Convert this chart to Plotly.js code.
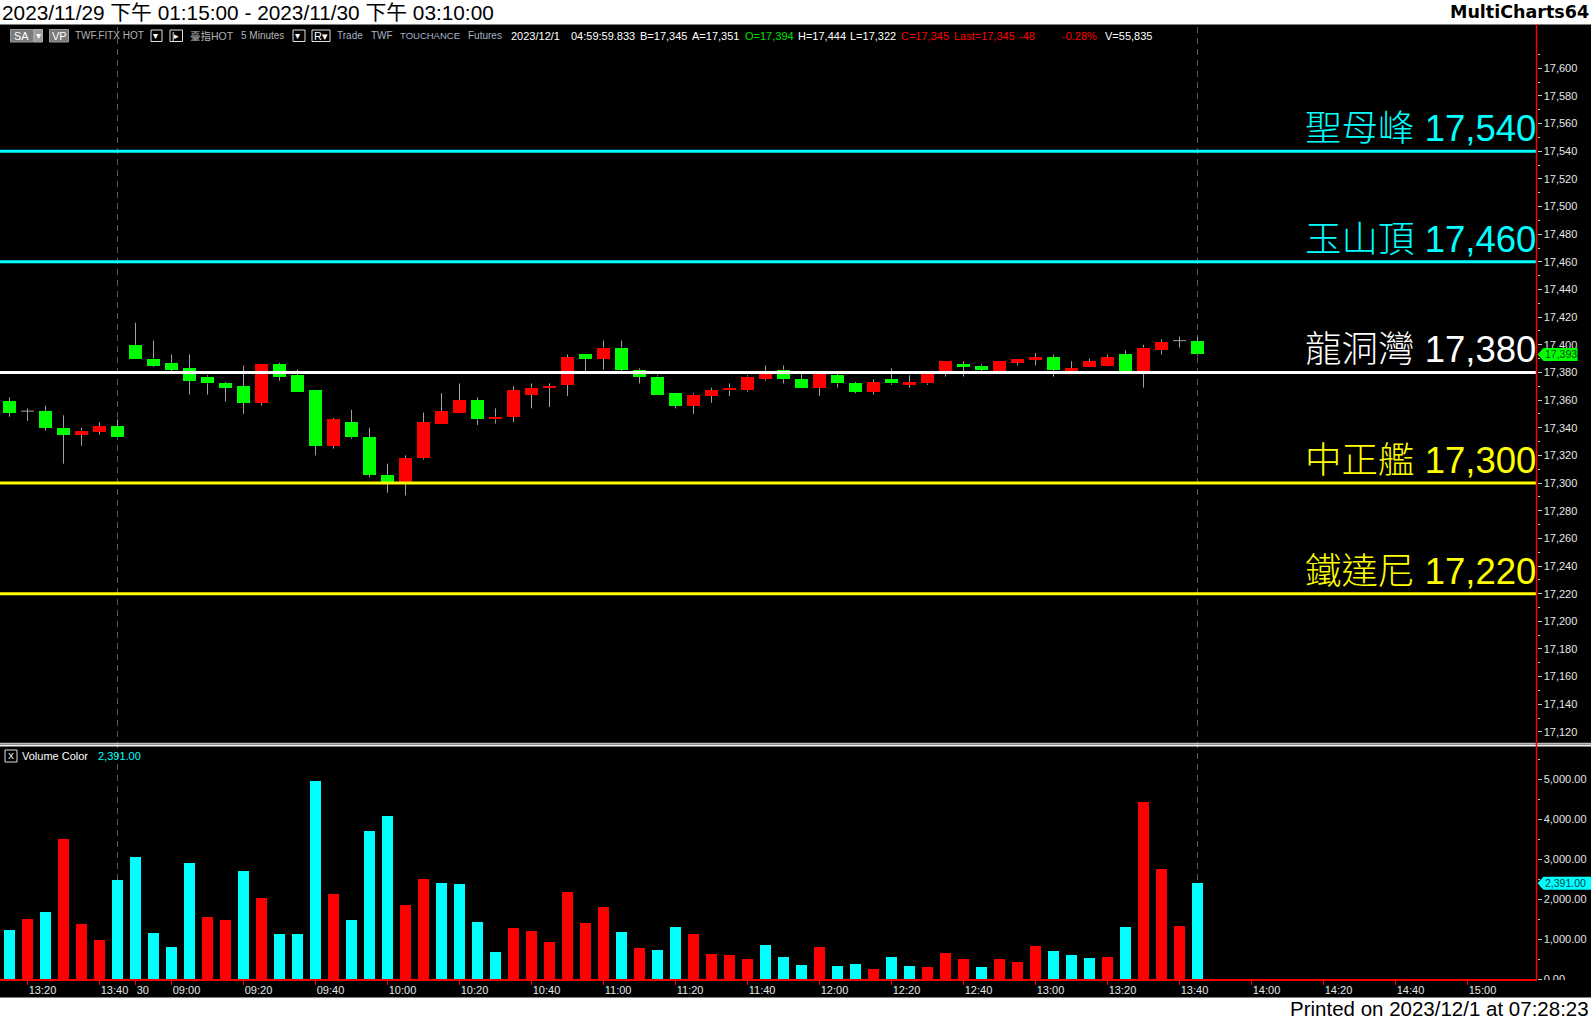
<!DOCTYPE html>
<html>
<head>
<meta charset="utf-8">
<script src="https://cdn.plot.ly/plotly-3.0.1.min.js"></script>
<style>
html,body{margin:0;padding:0;background:#000;overflow:hidden}
#chart{width:1591px;height:1020px}
</style>
</head>
<body>
<div id="chart"></div>
<script>
// ================= DATA =================
// 5-minute bar close times
const day1Times = ['13:15','13:20','13:25','13:30','13:35','13:40','13:45'];
const day2Times = ['08:50','08:55','09:00','09:05','09:10','09:15','09:20','09:25','09:30','09:35',
  '09:40','09:45','09:50','09:55','10:00','10:05','10:10','10:15','10:20','10:25',
  '10:30','10:35','10:40','10:45','10:50','10:55','11:00','11:05','11:10','11:15',
  '11:20','11:25','11:30','11:35','11:40','11:45','11:50','11:55','12:00','12:05',
  '12:10','12:15','12:20','12:25','12:30','12:35','12:40','12:45','12:50','12:55',
  '13:00','13:05','13:10','13:15','13:20','13:25','13:30','13:35','13:40','13:45'];
const futureTimes = ['13:50','13:55','14:00','14:05','14:10','14:15','14:20','14:25','14:30',
  '14:35','14:40','14:45','14:50','14:55','15:00','15:05','15:10'];
const day2Label = '30';

const openP = [17359,17352,17352,17340,17335,17337,17341,
  17400,17390,17387,17383,17377,17372,17370,17358,17386,17378,17367,17327,17344,17333,
  17306,17301,17318,17343,17351,17360,17346,17348,17364,17369,17371,17393,17390,17398,
  17382,17377,17365,17356,17363,17367,17367,17375,17382,17375,17369,17378,17372,17366,
  17375,17371,17372,17380,17386,17385,17381,17387,17389,17391,17380,17384,17385,17393,
  17380,17396,17403,17403];
const highP = [17362,17354,17356,17349,17340,17344,17346,
  17416,17403,17393,17393,17378,17373,17385,17386,17387,17382,17367,17347,17353,17340,
  17314,17320,17351,17365,17372,17362,17354,17370,17372,17372,17393,17393,17403,17403,
  17383,17378,17365,17365,17369,17372,17378,17385,17385,17379,17380,17379,17373,17375,
  17383,17378,17380,17388,17388,17386,17388,17390,17394,17393,17388,17390,17393,17396,
  17400,17404,17406,17406];
const lowP = [17348,17345,17338,17314,17327,17335,17333,
  17390,17384,17381,17364,17364,17359,17350,17356,17374,17366,17320,17325,17332,17304,
  17293,17291,17317,17343,17351,17342,17343,17344,17354,17355,17363,17381,17382,17381,
  17372,17364,17354,17350,17358,17363,17366,17374,17372,17369,17363,17369,17365,17364,
  17371,17369,17371,17377,17377,17381,17380,17385,17385,17377,17380,17384,17385,17380,
  17369,17393,17398,17392];
const closeP = [17351,17352,17340,17335,17338,17341,17333,
  17390,17385,17382,17374,17372,17369,17358,17386,17377,17366,17327,17346,17333,17306,
  17301,17318,17344,17352,17360,17346,17348,17367,17369,17370,17391,17390,17398,17382,
  17377,17364,17356,17364,17367,17369,17377,17380,17375,17369,17379,17372,17366,17373,
  17372,17373,17379,17388,17384,17382,17388,17390,17391,17382,17383,17388,17391,17381,
  17398,17402,17403,17393];

const volume = [1225,1508,1675,3500,1375,975,2475,
  3050,1150,800,2900,1550,1475,2700,2025,1125,1125,4950,2125,1475,3700,
  4075,1850,2500,2400,2375,1425,675,1275,1200,925,2175,1400,1800,1175,
  775,725,1300,1125,625,600,500,850,550,350,800,325,375,250,
  550,325,300,650,500,300,500,425,825,700,600,525,550,1300,
  4425,2750,1325,2391];
// volume colour class: 'u' = red, 'd' = cyan
const volumeDir = ['d','u','d','u','u','u','d',
  'd','d','d','d','u','u','d','u','d','d','d','u','d','d',
  'd','u','u','d','d','d','d','u','u','u','u','u','u','d',
  'u','d','d','u','u','u','u','d','d','d','u','d','d','u',
  'd','d','u','u','u','d','u','u','u','d','d','d','u','d',
  'u','u','u','d'];

const levelNames = ['聖母峰','玉山頂','龍洞灣','中正艦','鐵達尼'];
const levelValues = [17540,17460,17380,17300,17220];

// ================= STYLE =================
const W = 1591, H = 1020;
const px = v => v / W;
const py = v => 1 - v / H;
const LAT = 'Liberation Sans, Arial, Noto Sans CJK TC, sans-serif';
const CJK = 'Liberation Sans, Noto Sans CJK TC, sans-serif';
const levelColors = ['#00ffff','#00ffff','#ffffff','#ffff00','#ffff00'];
const UP = '#ff0000', DOWN = '#00ff00', VUP = '#ff0000', VDOWN = '#00ffff', WICK = '#a0a0a0';
const AXIS_X = 1536.5;
const PITCH = 18;
const bodyW = 0.72, volW = 0.6, dojiHalf = 0.36;

// ================= BUILD =================
const slots = day1Times.concat(day2Times, futureTimes);
const tickVals = [], tickText = [];
slots.forEach((t, i) => {
  if (i === day1Times.length) { tickVals.push(i); tickText.push(day2Label); }
  else if (parseInt(t.split(':')[1], 10) % 20 === 0) { tickVals.push(i); tickText.push(t); }
});
const n = closeP.length;
const idx = closeP.map((_, i) => i);
const fmt = v => v.toLocaleString('en-US');
const fmt2 = v => v.toLocaleString('en-US', {minimumFractionDigits:2, maximumFractionDigits:2});

// wicks (drawn outside the body), doji bars as a horizontal dash
const wx = [], wy = [];
for (let i = 0; i < n; i++) {
  const top = Math.max(openP[i], closeP[i]), bot = Math.min(openP[i], closeP[i]);
  wx.push(i, i, null); wy.push(highP[i], top, null);
  wx.push(i, i, null); wy.push(bot, lowP[i], null);
  if (openP[i] === closeP[i]) { wx.push(i - dojiHalf, i + dojiHalf, null); wy.push(openP[i], openP[i], null); }
}

const traces = [
  { type:'bar', x: idx, y: volume, xaxis:'x', yaxis:'y', width: volW,
    marker:{ color: volumeDir.map(d => d === 'u' ? VUP : VDOWN), line:{width:0} }, hoverinfo:'skip' },
  { type:'scatter', mode:'lines', x: wx, y: wy, xaxis:'x', yaxis:'y2',
    line:{ color: WICK, width: 1 }, hoverinfo:'skip', connectgaps:false },
  { type:'bar', x: idx, base: openP, y: closeP.map((c, i) => c - openP[i]), xaxis:'x', yaxis:'y2', width: bodyW,
    marker:{ color: closeP.map((c, i) => c >= openP[i] ? UP : DOWN), line:{width:0} }, hoverinfo:'skip' }
];

const lastClose = closeP[n - 1], lastVol = volume[n - 1];
const sessionEnds = idx.filter(i => slots[i] === '13:45');

const shapes = [];
const rectPx = (x0, y0, x1, y1, fill, line, lw, layer) => shapes.push({
  type:'rect', xref:'paper', yref:'paper', x0:px(x0), x1:px(x1), y0:py(y1), y1:py(y0),
  fillcolor: fill, line:{ color: line || fill, width: lw || 0 }, layer: layer || 'above' });

// header / footer white bands
rectPx(0, 0, W, 24.5, '#ffffff', null, 0, 'below');
rectPx(0, 997.5, W, H, '#ffffff', null, 0, 'below');

// session end dashed lines
sessionEnds.forEach(i => shapes.push({ type:'line', xref:'x', yref:'paper', x0:i, x1:i, y0:py(979), y1:py(27),
  line:{ color:'#585858', width:1, dash:'6px,5px' }, layer:'below' }));

// price levels
levelValues.forEach((v, i) => shapes.push({ type:'line', xref:'paper', yref:'y2', x0:0, x1:px(AXIS_X), y0:v, y1:v,
  line:{ color: levelColors[i], width:3 }, layer:'above' }));

// pane separator
shapes.push({ type:'line', xref:'paper', yref:'paper', x0:0, x1:1, y0:py(743.5), y1:py(743.5), line:{color:'#bdbdbd', width:1.5}, layer:'above' });
shapes.push({ type:'line', xref:'paper', yref:'paper', x0:0, x1:1, y0:py(745.5), y1:py(745.5), line:{color:'#f0f0f0', width:2}, layer:'above' });

// red price/volume scale line
shapes.push({ type:'line', xref:'paper', yref:'paper', x0:px(AXIS_X), x1:px(AXIS_X), y0:py(979), y1:py(24.5), line:{color:'#ff0000', width:1.5}, layer:'above' });
// hide lower half of "0.00"
rectPx(AXIS_X + 1, 980, W, 997, '#000000', null, 0, 'above');

// last value markers
shapes.push({ type:'path', xref:'paper', xsizemode:'pixel', xanchor:px(AXIS_X + 1), yref:'y2', ysizemode:'pixel', yanchor:lastClose,
  path:'M0,0 L6,6.5 L40,6.5 L40,-6.5 L6,-6.5 Z', fillcolor:'#00ff00', line:{width:0}, layer:'above' });
shapes.push({ type:'path', xref:'paper', xsizemode:'pixel', xanchor:px(AXIS_X + 1), yref:'y', ysizemode:'pixel', yanchor:lastVol,
  path:'M0,0 L6,6.5 L54,6.5 L54,-6.5 L6,-6.5 Z', fillcolor:'#00ffff', line:{width:0}, layer:'above' });

// toolbar boxes
rectPx(10.5, 29.5, 33.5, 42, '#7a7a7a', '#9a9a9a', 1);
rectPx(34, 29.5, 42.5, 42, '#9a9a9a', '#b0b0b0', 1);
rectPx(49.5, 29.5, 68.5, 42, '#7a7a7a', '#9a9a9a', 1);
rectPx(151, 30, 162, 41.5, '#000000', '#e0e0e0', 1);
rectPx(170, 30, 182.5, 41.5, '#000000', '#e0e0e0', 1);
rectPx(293, 30, 305, 41.5, '#000000', '#e0e0e0', 1);
rectPx(312, 30, 330, 41.5, '#000000', '#e0e0e0', 1);
// volume pane close box
rectPx(5, 750, 17, 762, '#000000', '#e0e0e0', 1);

function ann(text, x, y, size, color, extra) {
  return Object.assign({ text, xref:'paper', yref:'paper', x:px(x), y:py(y), xanchor:'left', yanchor:'middle',
    showarrow:false, borderpad:0, borderwidth:0, font:{ family: LAT, size, color } }, extra || {});
}

const GRAY = '#b4b4b4', SLATE = '#a6b4c8';
const annotations = [
  ann('2023/11/29 下午 01:15:00 - 2023/11/30 下午 03:10:00', 2, 12.5, 20.5, '#000000', {font:{family:CJK, size:20.8, color:'#000'}}),
  ann('<b>MultiCharts64</b>', 1589, 12.5, 17.5, '#000000', {xanchor:'right', font:{family:'DejaVu Sans, sans-serif', size:17.5, color:'#000'}}),
  ann('Printed on 2023/12/1 at 07:28:23', 1589, 1008.5, 20.5, '#000000', {xanchor:'right'}),
  // toolbar
  ann('SA', 13.5, 36, 11, '#ffffff'),
  ann('▾', 35.5, 36, 10, '#ffffff'),
  ann('VP', 52, 36, 11, '#ffffff'),
  ann('TWF.FITX HOT', 75, 36, 10, GRAY),
  ann('▾', 153, 36, 10, '#ffffff'),
  ann('|▸', 172, 36, 9, '#ffffff'),
  ann('臺指HOT', 190, 36, 11, GRAY, {font:{family:CJK, size:10.5, color:GRAY}}),
  ann('5 Minutes', 241, 36, 10, GRAY),
  ann('▾', 295, 36, 10, '#ffffff'),
  ann('R▾', 314, 36, 11, '#ffffff'),
  ann('Trade', 337, 36, 10, SLATE),
  ann('TWF', 371, 36, 10, SLATE),
  ann('TOUCHANCE', 400, 36, 9.5, SLATE),
  ann('Futures', 468, 36, 10, SLATE),
  ann('2023/12/1', 511, 36, 11, '#ffffff'),
  ann('04:59:59.833', 571, 36, 11, '#ffffff'),
  ann('B=17,345', 640, 36, 11, '#ffffff'),
  ann('A=17,351', 692, 36, 11, '#ffffff'),
  ann('O=17,394', 745, 36, 11, '#00e000'),
  ann('H=17,444', 798, 36, 11, '#ffffff'),
  ann('L=17,322', 850, 36, 11, '#ffffff'),
  ann('C=17,345', 901, 36, 11, '#ff0000'),
  ann('Last=17,345', 954, 36, 11, '#ff0000'),
  ann('-48', 1019, 36, 11, '#ff0000'),
  ann('-0.28%', 1062, 36, 11, '#ff0000'),
  ann('V=55,835', 1105, 36, 11, '#ffffff'),
  // volume pane title
  ann('X', 7.5, 756, 9, '#ffffff'),
  ann('Volume Color', 22, 756, 11, '#ffffff'),
  ann(fmt2(lastVol), 98, 756, 11, '#00ffff'),
  // last value labels
  { text: fmt(lastClose), xref:'paper', yref:'y2', x:px(AXIS_X + 8), y:lastClose, xanchor:'left', yanchor:'middle',
    showarrow:false, borderpad:0, borderwidth:0, font:{family:LAT, size:10.5, color:'#004400'} },
  { text: fmt2(lastVol), xref:'paper', yref:'y', x:px(AXIS_X + 8), y:lastVol,
    xanchor:'left', yanchor:'middle', showarrow:false, borderpad:0, borderwidth:0, font:{family:LAT, size:10.5, color:'#004444'} }
];

// level labels
levelValues.forEach((v, i) => annotations.push({
  text: levelNames[i] + ' ' + fmt(v), xref:'paper', yref:'y2', x:px(AXIS_X - 1), y:v,
  xanchor:'right', yanchor:'bottom', yshift:2, showarrow:false, borderpad:0, borderwidth:0,
  font:{ family: CJK, size:36.5, color: levelColors[i], weight:300 } }));

const tickFont = { family: LAT, size: 11, color: '#e6e6e6' };
const xr0 = -9.5 / PITCH;
const layout = {
  width: W, height: H,
  margin: { l:0, r:0, t:0, b:0, pad:0 },
  paper_bgcolor: '#000000', plot_bgcolor: 'rgba(0,0,0,0)',
  showlegend: false, barmode: 'overlay', bargap: 0,
  xaxis: { domain:[0, px(AXIS_X)], range:[xr0, xr0 + AXIS_X / PITCH], anchor:'y',
    tickmode:'array', tickvals: tickVals, ticktext: tickText, ticks:'outside', ticklen:4, tickcolor:'#ff0000', tickwidth:1,
    ticklabelposition:'outside right', tickfont: tickFont, showgrid:false, zeroline:false,
    showline:true, linecolor:'#ff0000', linewidth:1.5, fixedrange:true },
  yaxis: { domain:[py(979), py(747)], range:[0, 5800], anchor:'x', side:'right',
    tickmode:'linear', tick0:0, dtick:1000, tickformat:',.2f', ticks:'outside', ticklen:4, tickcolor:'#c8c8c8',
    minor:{ ticks:'outside', ticklen:2, dtick:500, tickcolor:'#c8c8c8', showgrid:false },
    tickfont: tickFont, showgrid:false, zeroline:false, showline:false, fixedrange:true },
  yaxis2: { domain:[py(742), py(46)], range:[17112.7, 17616.1], anchor:'x', side:'right',
    tickmode:'linear', tick0:0, dtick:20, tickformat:',d', ticks:'outside', ticklen:4, tickcolor:'#c8c8c8',
    minor:{ ticks:'outside', ticklen:2, dtick:10, tickcolor:'#c8c8c8', showgrid:false },
    tickfont: tickFont, showgrid:false, zeroline:false, showline:false, fixedrange:true },
  shapes, annotations
};

Plotly.newPlot('chart', traces, layout, { displayModeBar:false, staticPlot:true });
</script>
</body>
</html>
